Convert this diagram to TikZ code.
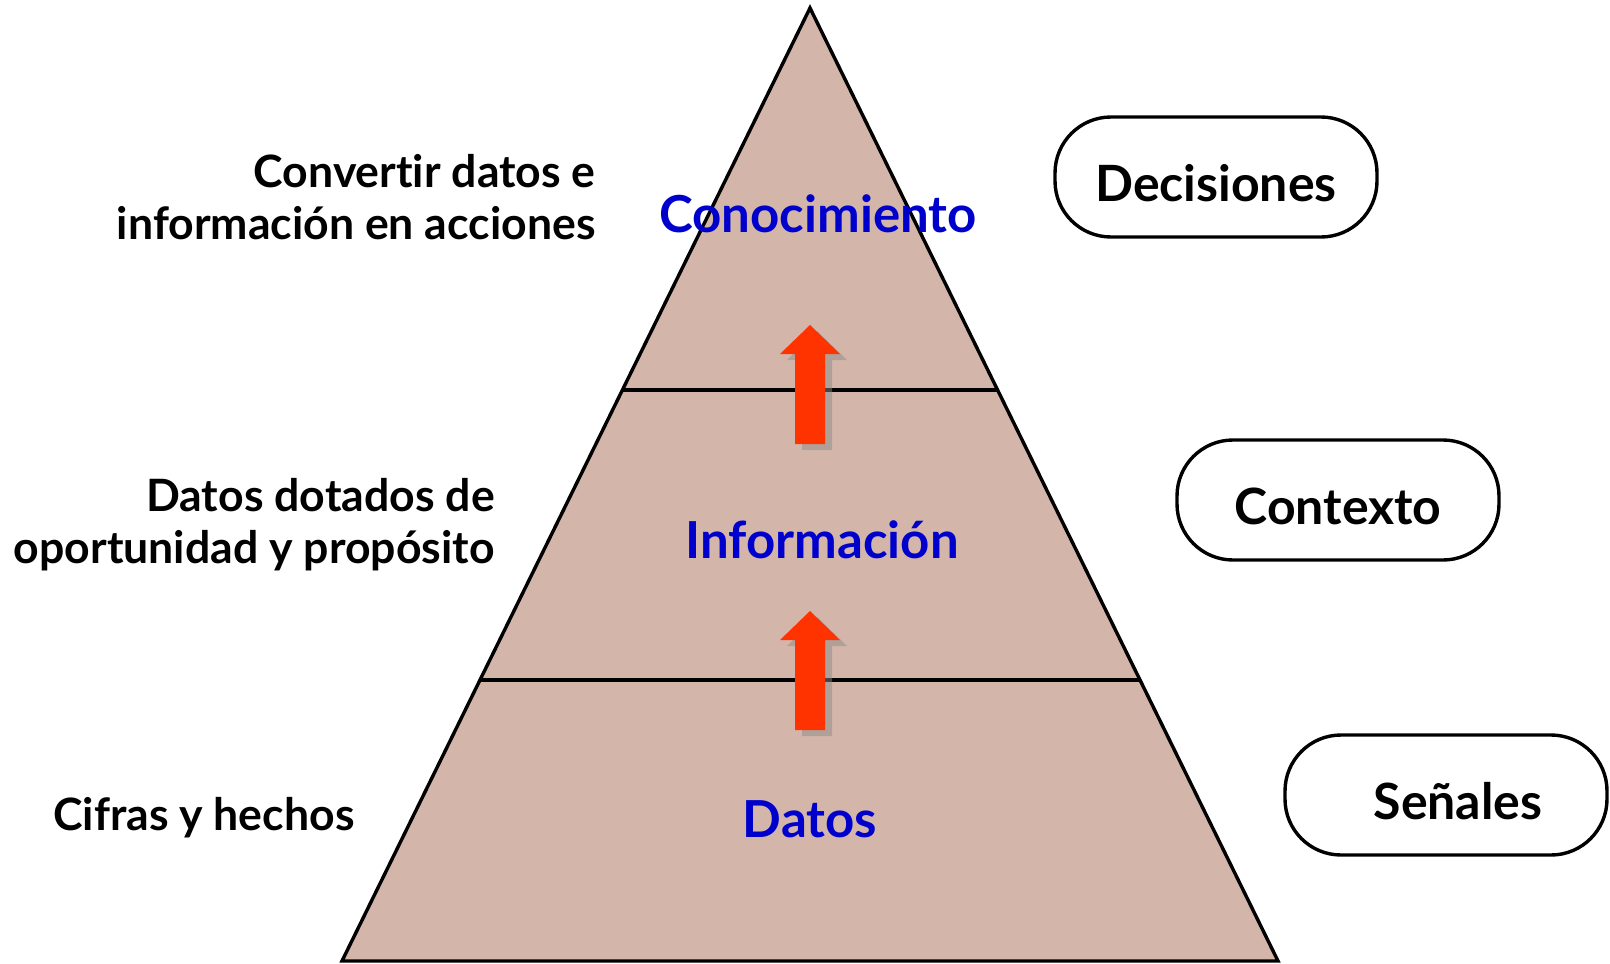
\documentclass[tikz,border=0pt]{standalone}
\usepackage{fontspec}
\setmainfont{Lato}[Ligatures=NoCommon]
\usetikzlibrary{positioning}
\definecolor{pyrfill}{RGB}{212,181,170}
\definecolor{lblblue}{RGB}{0,0,204}
\definecolor{uparrow}{RGB}{255,51,0}
\begin{document}
\begin{tikzpicture}[x=0.5pt,y=-0.5pt,
    layer/.style={font=\fontsize{25.5}{29}\selectfont\bfseries, text=lblblue, inner sep=0pt},
    note/.style={font=\fontsize{22.3}{26}\selectfont\bfseries, align=right, anchor=east, inner sep=0pt},
    badge/.style={draw, line width=1.7pt, rounded corners=28pt, minimum width=161pt,
      minimum height=60pt, text height=24pt, text depth=0pt,
      font=\fontsize{25}{29}\selectfont\bfseries}]
    \useasboundingbox (0,0) rectangle (1610,963);

    % Pyramid
    \coordinate (apex) at (810,8);
    \coordinate (baseL) at (342,961);
    \coordinate (baseR) at (1278,961);
    \filldraw[fill=pyrfill, line width=1.7pt] (apex) -- (baseR) -- (baseL) -- cycle;
    \draw[line width=1.6pt] (622,390) -- (998,390);
    \draw[line width=1.6pt] (480,680) -- (1140,680);

    % Up arrows with shadow
    \foreach \ay in {325,611} {
        \fill[black!45, opacity=0.5, shift={(817,\ay+6)}]
            (0,0) -- (30,29) -- (15,29) -- (15,119) -- (-15,119) -- (-15,29) -- (-30,29) -- cycle;
        \fill[uparrow, shift={(810,\ay)}]
            (0,0) -- (30,29) -- (15,29) -- (15,119) -- (-15,119) -- (-15,29) -- (-30,29) -- cycle;
    }

    % Layer names
    \node[layer] (conoc) at (818,214) {Conocimiento};
    \node[layer] (info) at (822,540) {Información};
    \node[layer] (datos) at (810,819) {Datos};

    % Notes on the left
    \node[note] (noteTop) at (596,197) {Convertir datos e\\información en acciones};
    \node[note] (noteMid) at (495,525) {Datos dotados de\\oportunidad y propósito};
    \node[note] (noteBot) at (355,818) {Cifras y hechos};

    % Boxes on the right
    \node[badge] (decis) at (1216,177) {Decisiones};
    \node[badge] (contx) at (1338,500) {Contexto};
    \node[badge] (senal) at (1446,795) {\hspace{12pt}Señales};
\end{tikzpicture}
\end{document}
